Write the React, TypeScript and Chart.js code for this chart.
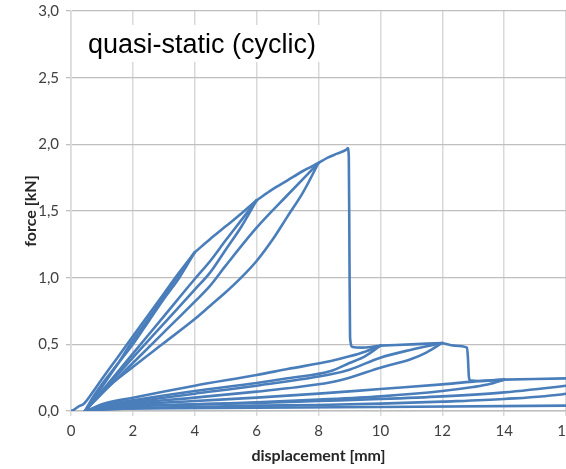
import React, { useEffect, useRef } from "react";
import { Chart, registerables } from "chart.js";

Chart.register(...registerables);

// ---- tick values / labels ----
const xTickValues = [0, 2, 4, 6, 8, 10, 12, 14, 16];
const yTickValues = [0, 0.5, 1, 1.5, 2, 2.5, 3];
const xTitle = "displacement [mm]";
const yTitle = "force [kN]";
const chartTitle = "quasi-static (cyclic)";

// ---- path segments (displacement [mm], force [kN]) in test order ----
const load4D = [0, 0.1, 0.25, 0.4, 0.7, 1, 1.5, 2, 2.5, 3, 3.5, 4];
const load4F = [0, 0.01, 0.035, 0.05, 0.14, 0.24, 0.4, 0.56, 0.72, 0.88, 1.04, 1.19];
const unload4D = [4, 3.5, 3, 2.5, 2, 1.5, 1, 0.7, 0.45];
const unload4F = [1.19, 1.0, 0.84, 0.67, 0.5, 0.35, 0.2, 0.1, 0];
const reload4D = [0.45, 0.7, 1, 1.5, 2, 2.5, 3, 3.5, 4];
const reload4F = [0, 0.08, 0.18, 0.35, 0.53, 0.69, 0.86, 1.03, 1.19];
const env4to6D = [4, 4.5, 5, 5.5, 6];
const env4to6F = [1.19, 1.29, 1.385, 1.48, 1.58];
const unload6D = [6, 5.5, 5, 4.5, 4, 3, 2, 1, 0.45];
const unload6F = [1.58, 1.38, 1.21, 1.04, 0.91, 0.655, 0.4, 0.14, 0];
const reload6D = [0.45, 1, 2, 3, 4, 4.5, 5, 5.5, 6];
const reload6F = [0, 0.15, 0.43, 0.71, 0.99, 1.125, 1.28, 1.43, 1.58];
const env6to8D = [6, 6.5, 7, 7.5, 8];
const env6to8F = [1.58, 1.66, 1.73, 1.8, 1.86];
const unload8D = [8, 7.5, 7, 6.5, 6, 5.5, 5, 4.5, 4, 3, 2, 1, 0.45];
const unload8F = [1.86, 1.64, 1.46, 1.28, 1.125, 1.0, 0.89, 0.79, 0.69, 0.51, 0.33, 0.14, 0];
const reload8D = [0.45, 1, 2, 3, 4, 4.5, 5, 6, 7, 8];
const reload8F = [0, 0.13, 0.36, 0.59, 0.82, 0.94, 1.09, 1.375, 1.62, 1.86];
const env8to9D = [8, 8.3, 8.6, 8.9, 8.95];
const env8to9F = [1.86, 1.9, 1.93, 1.96, 1.97];
const drop9D = [8.95, 8.98, 9.0, 9.02, 9.1, 9.4, 9.7, 10];
const drop9F = [1.97, 1.9, 1.2, 0.55, 0.48, 0.475, 0.48, 0.49];
const unload10D = [10, 9.5, 9, 8.4, 7, 6, 4, 2, 1, 0.5];
const unload10F = [0.49, 0.41, 0.36, 0.3, 0.245, 0.21, 0.15, 0.08, 0.04, 0];
const reload10D = [0.5, 1, 2, 4, 6, 7, 8.4, 9, 9.5, 10];
const reload10F = [0, 0.05, 0.1, 0.19, 0.27, 0.315, 0.375, 0.41, 0.445, 0.49];
const env10to12D = [10, 10.5, 11, 11.5, 12];
const env10to12F = [0.49, 0.495, 0.5, 0.505, 0.51];
const unload12D = [12, 11.5, 11, 10, 9, 8.4, 7, 6, 4, 2, 1, 0.5];
const unload12F = [0.51, 0.44, 0.39, 0.325, 0.25, 0.215, 0.17, 0.145, 0.1, 0.06, 0.03, 0];
const reload12D = [0.5, 1, 2, 4, 6, 8.4, 9, 10, 11, 12];
const reload12F = [0, 0.04, 0.07, 0.13, 0.19, 0.275, 0.31, 0.4, 0.46, 0.51];
const env12to14D = [12, 12.4, 12.8, 12.83, 12.86, 12.9, 13.2, 13.6, 14];
const env12to14F = [0.51, 0.49, 0.475, 0.4, 0.26, 0.23, 0.225, 0.23, 0.235];
const unload14D = [14, 13.5, 13, 12, 10, 8, 6, 4, 2, 1, 0.5];
const unload14F = [0.235, 0.2, 0.18, 0.15, 0.11, 0.085, 0.065, 0.05, 0.035, 0.02, 0];
const reload14D = [0.5, 1, 1.5, 2, 4, 6, 8, 10, 12, 13, 14];
const reload14F = [0, 0.03, 0.04, 0.05, 0.075, 0.1, 0.13, 0.165, 0.2, 0.22, 0.235];
const env14to18D = [14, 15, 16, 17, 18];
const env14to18F = [0.235, 0.24, 0.245, 0.25, 0.25];
const unload18D = [18, 17, 16, 14, 12, 10, 8, 6, 4, 2, 1, 0.5];
const unload18F = [0.25, 0.18, 0.13, 0.09, 0.07, 0.055, 0.045, 0.04, 0.03, 0.02, 0.01, 0];
const reload18D = [0.5, 1, 1.5, 2, 4, 6, 8, 10, 12, 14, 16, 18];
const reload18F = [0, 0.025, 0.035, 0.04, 0.05, 0.06, 0.075, 0.09, 0.11, 0.14, 0.19, 0.25];
const finalD = [0.5, 1, 2, 6, 10, 16, 20];
const finalF = [0, 0.015, 0.02, 0.025, 0.03, 0.04, 0.05];

const segments: [number[], number[]][] = [
  [load4D, load4F], [unload4D, unload4F], [reload4D, reload4F], [env4to6D, env4to6F],
  [unload6D, unload6F], [reload6D, reload6F], [env6to8D, env6to8F],
  [unload8D, unload8F], [reload8D, reload8F], [env8to9D, env8to9F], [drop9D, drop9F],
  [unload10D, unload10F], [reload10D, reload10F], [env10to12D, env10to12F],
  [unload12D, unload12F], [reload12D, reload12F], [env12to14D, env12to14F],
  [unload14D, unload14F], [reload14D, reload14F], [env14to18D, env14to18F],
  [unload18D, unload18F], [reload18D, reload18F], [finalD, finalF],
];

const LINE = "#4A7EBB";
const W = 566;
const H = 469;

const titleBox = {
  id: "titleBox",
  beforeDatasetsDraw(chart: any) {
    const { ctx, chartArea } = chart;
    ctx.save();
    ctx.font = '27px "Liberation Sans", Arial, sans-serif';
    const w = ctx.measureText(chartTitle).width;
    const left = chartArea.left + 17;
    ctx.fillStyle = "#ffffff";
    ctx.fillRect(left - 8, chartArea.top + 14, w + 16, 37);
    ctx.fillStyle = "#000000";
    ctx.textBaseline = "alphabetic";
    ctx.textAlign = "left";
    ctx.fillText(chartTitle, left, chartArea.top + 42);
    ctx.restore();
  },
};

export default function App() {
  const ref = useRef<HTMLCanvasElement>(null);
  useEffect(() => {
    if (!ref.current) return;
    const tickFont = { family: "Lato, 'Liberation Sans', sans-serif", size: 15 };
    const titleFont = { family: "Lato, 'Liberation Sans', sans-serif", size: 16, weight: "bold" as const };
    const datasets = segments.map(([d, f]) => ({
      data: d.map((x, i) => ({ x, y: f[i] })),
      showLine: true,
      borderColor: LINE,
      backgroundColor: LINE,
      borderWidth: 2.6,
      pointRadius: 0,
      cubicInterpolationMode: "monotone" as const,
      fill: false,
      borderJoinStyle: "round" as const,
      borderCapStyle: "round" as const,
    }));
    const chart = new Chart(ref.current, {
      type: "scatter",
      data: { datasets },
      options: {
        animation: false,
        responsive: false,
        layout: { padding: 0 },
        plugins: { legend: { display: false }, tooltip: { enabled: false } },
        scales: {
          x: {
            type: "linear",
            min: 0,
            max: 16,
            afterBuildTicks: (s: any) => {
              s.ticks = xTickValues.map((v) => ({ value: v }));
            },
            afterFit: (s: any) => {
              s.height = 58;
              s.paddingRight = 0;
              s.paddingLeft = 0;
            },
            ticks: {
              font: tickFont,
              color: "#404040",
              padding: 6,
              maxRotation: 0,
              callback: (v: any) => String(v),
            },
            grid: { color: "#d9d9d9", lineWidth: 1.5, tickLength: 5, drawTicks: true },
            border: { display: true, color: "#bfbfbf", width: 1.5 },
            title: {
              display: true,
              text: xTitle,
              font: titleFont,
              color: "#262626",
              padding: { top: 0, bottom: 4 },
            },
          },
          y: {
            type: "linear",
            min: 0,
            max: 3,
            afterBuildTicks: (s: any) => {
              s.ticks = yTickValues.map((v) => ({ value: v }));
            },
            afterFit: (s: any) => {
              s.width = 71;
              s.paddingTop = 11;
              s.paddingBottom = 0;
            },
            ticks: {
              font: tickFont,
              color: "#404040",
              padding: 7,
              callback: (v: any) => Number(v).toFixed(1).replace(".", ","),
            },
            grid: { color: "#bfbfbf", lineWidth: 1.3, tickLength: 5, drawTicks: true },
            border: { display: true, color: "#d9d9d9", width: 1.5 },
            title: {
              display: true,
              text: yTitle,
              font: titleFont,
              color: "#262626",
              padding: { top: 21, bottom: 0 },
            },
          },
        },
      },
      plugins: [titleBox],
    } as any);
    return () => chart.destroy();
  }, []);
  return (
    <div
      style={{
        position: "fixed",
        left: 0,
        top: 0,
        width: W,
        height: H,
        overflow: "hidden",
        background: "#ffffff",
      }}
    >
      <canvas ref={ref} width={W} height={H} style={{ display: "block", width: W, height: H }} />
    </div>
  );
}
